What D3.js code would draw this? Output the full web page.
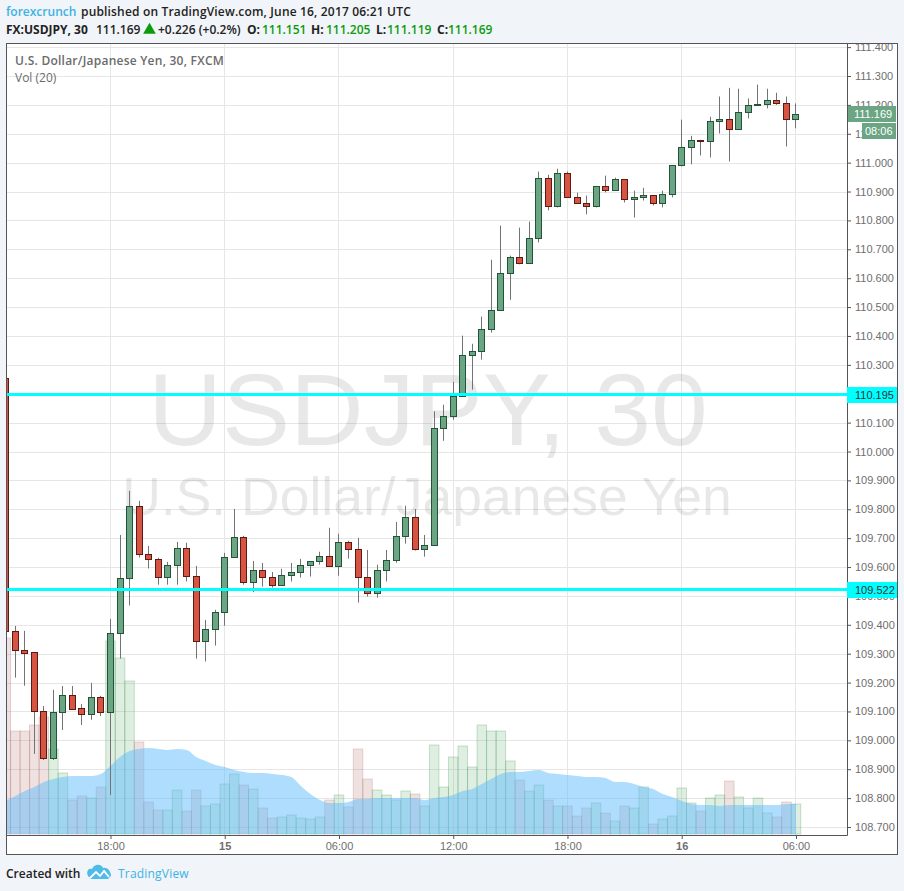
<!DOCTYPE html>
<html>
<head>
<meta charset="utf-8">
<script src="https://cdn.jsdelivr.net/npm/d3@7"></script>
<style>
  html, body { margin: 0; padding: 0; background: #f1f4f8; }
  svg { display: block; }
</style>
</head>
<body>
<div id="chart"></div>
<script>
// USDJPY 30 min candles, first bar is cut off by the left edge of the plot
var opens = [110.255,109.378,109.312,109.305,109.101,108.940,109.097,109.156,109.111,109.090,109.149,
  109.097,109.371,109.561,109.811,109.645,109.627,109.565,109.606,109.665,109.568,109.343,109.385,
  109.444,109.634,109.703,109.548,109.589,109.565,109.537,109.572,109.582,109.606,109.620,109.638,
  109.605,109.686,109.662,109.565,109.509,109.589,109.624,109.707,109.773,109.662,109.676,110.082,
  110.123,110.193,110.334,110.348,110.424,110.490,110.618,110.673,110.653,110.739,110.947,110.849,
  110.964,110.881,110.859,110.849,110.919,110.907,110.943,110.874,110.881,110.888,110.862,110.892,
  110.992,111.054,111.079,111.074,111.144,111.151,111.117,111.176,111.200,111.203,111.217,111.207,
  111.151];
var closes = [109.379,109.312,109.304,109.101,108.940,109.097,109.156,109.110,109.090,109.149,109.097,
  109.371,109.561,109.811,109.645,109.627,109.565,109.606,109.665,109.568,109.343,109.385,109.444,
  109.634,109.703,109.548,109.589,109.565,109.537,109.572,109.582,109.606,109.620,109.638,109.605,
  109.686,109.662,109.565,109.509,109.589,109.624,109.707,109.773,109.662,109.676,110.082,110.123,
  110.193,110.334,110.348,110.424,110.490,110.618,110.673,110.653,110.739,110.947,110.849,110.964,
  110.881,110.859,110.849,110.919,110.907,110.943,110.874,110.881,110.888,110.862,110.892,110.992,
  111.054,111.079,111.074,111.144,111.151,111.117,111.176,111.200,111.203,111.217,111.207,111.150,
  111.169];
var highs = [110.255,109.396,109.379,109.305,109.119,109.175,109.188,109.188,109.126,109.199,109.154,
  109.420,109.711,109.864,109.829,109.673,109.632,109.618,109.687,109.684,109.604,109.417,109.452,
  109.649,109.801,109.708,109.621,109.614,109.583,109.594,109.614,109.628,109.620,109.653,109.736,
  109.715,109.691,109.701,109.659,109.608,109.659,109.756,109.812,109.801,109.711,110.139,110.162,
  110.241,110.401,110.373,110.467,110.664,110.782,110.678,110.775,110.796,110.969,110.958,110.979,
  110.969,110.896,110.886,110.919,110.955,110.948,110.943,110.903,110.913,110.888,110.903,110.992,
  111.149,111.093,111.079,111.159,111.229,111.259,111.256,111.222,111.270,111.256,111.242,111.229,
  111.205];
var lows = [109.379,109.217,109.189,108.953,108.932,108.932,109.036,109.105,109.053,109.071,109.084,
  108.811,109.283,109.467,109.633,109.595,109.539,109.539,109.539,109.550,109.283,109.273,109.328,
  109.397,109.634,109.539,109.513,109.532,109.529,109.537,109.550,109.564,109.567,109.608,109.605,
  109.570,109.629,109.477,109.498,109.494,109.550,109.615,109.681,109.657,109.636,109.676,110.037,
  110.110,110.190,110.214,110.318,110.412,110.490,110.525,110.648,110.653,110.724,110.835,110.845,
  110.881,110.859,110.821,110.845,110.897,110.907,110.862,110.810,110.869,110.852,110.845,110.880,
  110.987,110.994,111.025,111.018,111.101,111.004,111.117,111.153,111.200,111.188,111.200,111.056,
  111.119];
var volumes = [196,103,103,109,117,85,61,34,38,36,47,
  193,176,153,92,32,24,24,44,23,44,28,30,
  50,60,49,45,26,16,17,19,16,15,17,34,
  39,27,85,55,44,39,34,43,40,28,89,47,
  77,88,67,109,103,103,73,54,43,49,34,28,
  28,18,26,31,21,13,28,26,47,10,15,18,
  46,31,23,36,39,53,37,26,36,21,17,32,
  30];
var volumeMa = [33,38,43,47,52,55,57,58,58,58,60,
  68,77,83,85,86,85,84,85,84,77,73,69,
  67,64,62,61,61,60,59,57,48,40,34,31,
  31,32,35,35,36,36,36,36,36,34,36,37,
  39,43,45,50,55,60,62,62,63,64,61,60,
  59,58,57,57,56,52,52,50,47,45,40,37,
  33,30,29,29,28,29,29,29,29,29,29,30,
  30];

var priceTicks = d3.range(108.7, 111.45, 0.1);
var timeTickBars = [11, 23, 35, 47, 59, 71, 83];
var timeTickLabels = ["18:00", "15", "06:00", "12:00", "18:00", "16", "06:00"];
var levelLines = [110.195, 109.522];
var lastPrice = 111.169;

var bars = opens.map(function (o, i) {
  return {i: i, open: o, high: highs[i], low: lows[i], close: closes[i], vol: volumes[i], up: closes[i] >= o};
});

var width = 904, height = 891;
var plot = {left: 7, right: 847, top: 44, bottom: 835};
var sans = "'Liberation Sans', Arial, sans-serif";
var headFont = "'Open Sans', sans-serif";
var green = "#6ba583", greenDark = "#225437", red = "#d75442", redDark = "#5b1a13";

var svg = d3.select("#chart").append("svg")
  .attr("width", width)
  .attr("height", height);

svg.append("rect")
  .attr("x", 6.5).attr("y", 43.5)
  .attr("width", 891).attr("height", 811)
  .attr("fill", "#fff");

var x = d3.scaleLinear().domain([0.128, 88.36]).range([plot.left, plot.right]);
var y = d3.scaleLinear().domain([108.7, 111.3]).range([827, 76]);
var yVol = d3.scaleLinear().domain([0, 200]).range([834, 634]);

svg.append("clipPath").attr("id", "plot-clip")
  .append("rect")
  .attr("x", plot.left).attr("y", plot.top)
  .attr("width", plot.right - plot.left).attr("height", plot.bottom - plot.top);

var chart = svg.append("g").attr("clip-path", "url(#plot-clip)");

// grid
chart.append("g").selectAll("line")
  .data(priceTicks)
  .enter().append("line")
  .attr("x1", plot.left).attr("x2", plot.right)
  .attr("y1", function (d) { return Math.round(y(d)) + 0.5; })
  .attr("y2", function (d) { return Math.round(y(d)) + 0.5; })
  .attr("stroke", "#e6e6e6");
chart.append("g").selectAll("line")
  .data(timeTickBars)
  .enter().append("line")
  .attr("x1", function (d) { return Math.floor(x(d)) + 0.5; })
  .attr("x2", function (d) { return Math.floor(x(d)) + 0.5; })
  .attr("y1", plot.top).attr("y2", plot.bottom)
  .attr("stroke", "#e6e6e6");

// watermark
chart.append("text")
  .attr("x", 428).attr("y", 445)
  .attr("text-anchor", "middle")
  .attr("font-family", sans)
  .attr("font-size", 102)
  .attr("fill", "#000").attr("fill-opacity", 0.09)
  .text("USDJPY, 30");
chart.append("text")
  .attr("x", 427).attr("y", 515)
  .attr("text-anchor", "middle")
  .attr("font-family", sans)
  .attr("font-size", 53.5)
  .attr("fill", "#000").attr("fill-opacity", 0.09)
  .text("U.S. Dollar/Japanese Yen");

// volume
var barW = x(1) - x(0);
chart.append("g").selectAll("rect")
  .data(bars)
  .enter().append("rect")
  .attr("x", function (d) { return x(d.i) - barW / 2; })
  .attr("width", barW)
  .attr("y", function (d) { return yVol(d.vol); })
  .attr("height", function (d) { return yVol(0) - yVol(d.vol); })
  .attr("fill", function (d) { return d.up ? "rgba(90,170,100,0.2)" : "rgba(170,90,90,0.18)"; })
  .attr("stroke", function (d) { return d.up ? "rgba(80,160,100,0.3)" : "rgba(150,70,70,0.2)"; });

// volume moving average
var maArea = d3.area()
  .x(function (d, i) { return x(i); })
  .y0(yVol(0))
  .y1(function (d) { return yVol(d); })
  .curve(d3.curveMonotoneX);
chart.append("path")
  .datum(volumeMa)
  .attr("d", maArea)
  .attr("fill", "#5fbcfb")
  .attr("fill-opacity", 0.5);

// candles
var candles = chart.append("g").selectAll("g")
  .data(bars)
  .enter().append("g");
candles.append("line")
  .attr("x1", function (d) { return Math.floor(x(d.i)) + 0.5; })
  .attr("x2", function (d) { return Math.floor(x(d.i)) + 0.5; })
  .attr("y1", function (d) { return y(d.high); })
  .attr("y2", function (d) { return y(d.low); })
  .attr("stroke", "#737375");
candles.append("rect")
  .attr("x", function (d) { return Math.floor(x(d.i)) - 2.5; })
  .attr("width", 6)
  .attr("y", function (d) { return Math.round(y(Math.max(d.open, d.close))) + 0.5; })
  .attr("height", function (d) { return Math.max(1, Math.round(y(Math.min(d.open, d.close))) - Math.round(y(Math.max(d.open, d.close)))); })
  .attr("fill", function (d) { return d.up ? green : red; })
  .attr("stroke", function (d) { return d.up ? greenDark : redDark; });

// horizontal levels
function levelY(d) { return Math.floor(y(d) - 0.5) + 0.5; }
chart.append("g").selectAll("line")
  .data(levelLines)
  .enter().append("line")
  .attr("x1", plot.left).attr("x2", plot.right)
  .attr("y1", levelY)
  .attr("y2", levelY)
  .attr("stroke", "#00ffff")
  .attr("stroke-width", 3);

// axes
var yAxis = d3.axisRight(y)
  .tickValues(priceTicks)
  .tickFormat(d3.format(".3f"))
  .tickSize(4)
  .tickPadding(4);
var yAxisG = svg.append("g")
  .attr("transform", "translate(" + plot.right + ",0)")
  .call(yAxis);
yAxisG.select(".domain").remove();
yAxisG.selectAll("line").attr("stroke", "#555");
yAxisG.selectAll("text")
  .attr("font-family", sans).attr("font-size", 11).attr("fill", "#6e6e6e");

var xAxis = d3.axisBottom(x)
  .tickValues(timeTickBars)
  .tickFormat(function (d, i) { return timeTickLabels[i]; })
  .tickSize(4)
  .tickPadding(3);
var xAxisG = svg.append("g")
  .attr("transform", "translate(0," + plot.bottom + ")")
  .call(xAxis);
xAxisG.select(".domain").remove();
xAxisG.selectAll("line").attr("stroke", "#555");
xAxisG.selectAll("text")
  .attr("font-family", sans).attr("font-size", 11).attr("fill", "#6e6e6e")
  .attr("font-weight", function (d, i) { return timeTickLabels[i].length < 3 ? "bold" : "normal"; });

// frame
svg.append("rect")
  .attr("x", 6.5).attr("y", 43.5)
  .attr("width", 891).attr("height", 811)
  .attr("fill", "none").attr("stroke", "#555");
svg.append("path")
  .attr("d", "M" + (plot.right + 0.5) + ",44V" + (plot.bottom + 0.5) + "H7")
  .attr("fill", "none").attr("stroke", "#555");

// price labels
levelLines.forEach(function (d) {
  svg.append("rect")
    .attr("x", plot.right).attr("y", levelY(d) - 7.5)
    .attr("width", 50).attr("height", 16)
    .attr("fill", "#00ffff");
  svg.append("text")
    .attr("x", plot.right + 8).attr("y", levelY(d) + 4.5)
    .attr("font-family", sans).attr("font-size", 11).attr("fill", "#333")
    .text(d3.format(".3f")(d));
});
svg.append("rect")
  .attr("x", plot.right + 1).attr("y", Math.round(y(lastPrice)) - 8)
  .attr("width", 48).attr("height", 16)
  .attr("fill", green);
svg.append("text")
  .attr("x", plot.right + 7).attr("y", Math.round(y(lastPrice)) + 4)
  .attr("font-family", sans).attr("font-size", 11).attr("fill", "#fff")
  .text(d3.format(".3f")(lastPrice));
svg.append("rect")
  .attr("x", 862).attr("y", Math.round(y(lastPrice)) + 9)
  .attr("width", 34).attr("height", 16)
  .attr("fill", green);
svg.append("text")
  .attr("x", 865).attr("y", Math.round(y(lastPrice)) + 21)
  .attr("font-family", sans).attr("font-size", 11).attr("fill", "#fff")
  .text("08:06");

// chart legend
svg.append("text")
  .attr("x", 15).attr("y", 65)
  .attr("font-family", headFont).attr("font-size", 12).attr("font-weight", 600).attr("fill", "#6b6b6b")
  .style("letter-spacing", "0.24px")
  .text("U.S. Dollar/Japanese Yen, 30, FXCM");
svg.append("text")
  .attr("x", 15).attr("y", 82)
  .attr("font-family", headFont).attr("font-size", 12).attr("fill", "#6b6b6b")
  .text("Vol (20)");

// header
var head1 = svg.append("text")
  .attr("x", 6).attr("y", 16)
  .attr("font-family", headFont).attr("font-size", 12).attr("font-weight", 600).attr("fill", "#222");
head1.append("tspan").attr("fill", "#3bb3e4").text("forexcrunch");
head1.append("tspan").attr("x", 81).style("letter-spacing", "0.17px")
  .text("published on TradingView.com, June 16, 2017 06:21 UTC");

var head2 = svg.append("text")
  .attr("x", 6).attr("y", 34)
  .attr("font-family", headFont).attr("font-size", 12).attr("font-weight", 600).attr("fill", "#222");
head2.append("tspan").attr("font-weight", 700).text("FX:USDJPY, 30");
head2.append("tspan").attr("x", 96).text("111.169");
svg.append("path")
  .attr("d", d3.symbol().type(d3.symbolTriangle).size(70)())
  .attr("transform", "translate(149.5,30)")
  .attr("fill", "#0a9c0a");
head2.append("tspan").attr("x", 158).text("+0.226 (+0.2%)");
var ohlc = [["O:", 111.151, 247, 262], ["H:", 111.205, 311, 326], ["L:", 111.119, 376, 387], ["C:", 111.169, 437, 448]];
ohlc.forEach(function (d) {
  head2.append("tspan").attr("x", d[2]).attr("font-weight", 700).text(d[0]);
  head2.append("tspan").attr("x", d[3]).attr("fill", "#0a9c0a").text(d3.format(".3f")(d[1]));
});

// footer
svg.append("text")
  .attr("x", 6).attr("y", 878)
  .attr("font-family", headFont).attr("font-size", 12).attr("font-weight", 600).attr("fill", "#222")
  .text("Created with");
svg.append("path")
  .attr("d", "M88,876c-2,-4 0,-8 4,-7c2,-5 9,-6 11,-1c5,-1 8,4 8,8l-3,3h-17z")
  .attr("fill", "#4ebbe9");
svg.append("path")
  .attr("d", "M90,878l6,-6l4,4l4,-5l5,6")
  .attr("fill", "none").attr("stroke", "#fff").attr("stroke-width", 1.8);
svg.append("text")
  .attr("x", 118).attr("y", 878)
  .attr("font-family", headFont).attr("font-size", 12).attr("fill", "#3bb3e4")
  .style("letter-spacing", "0.2px")
  .text("TradingView");
</script>
</body>
</html>
